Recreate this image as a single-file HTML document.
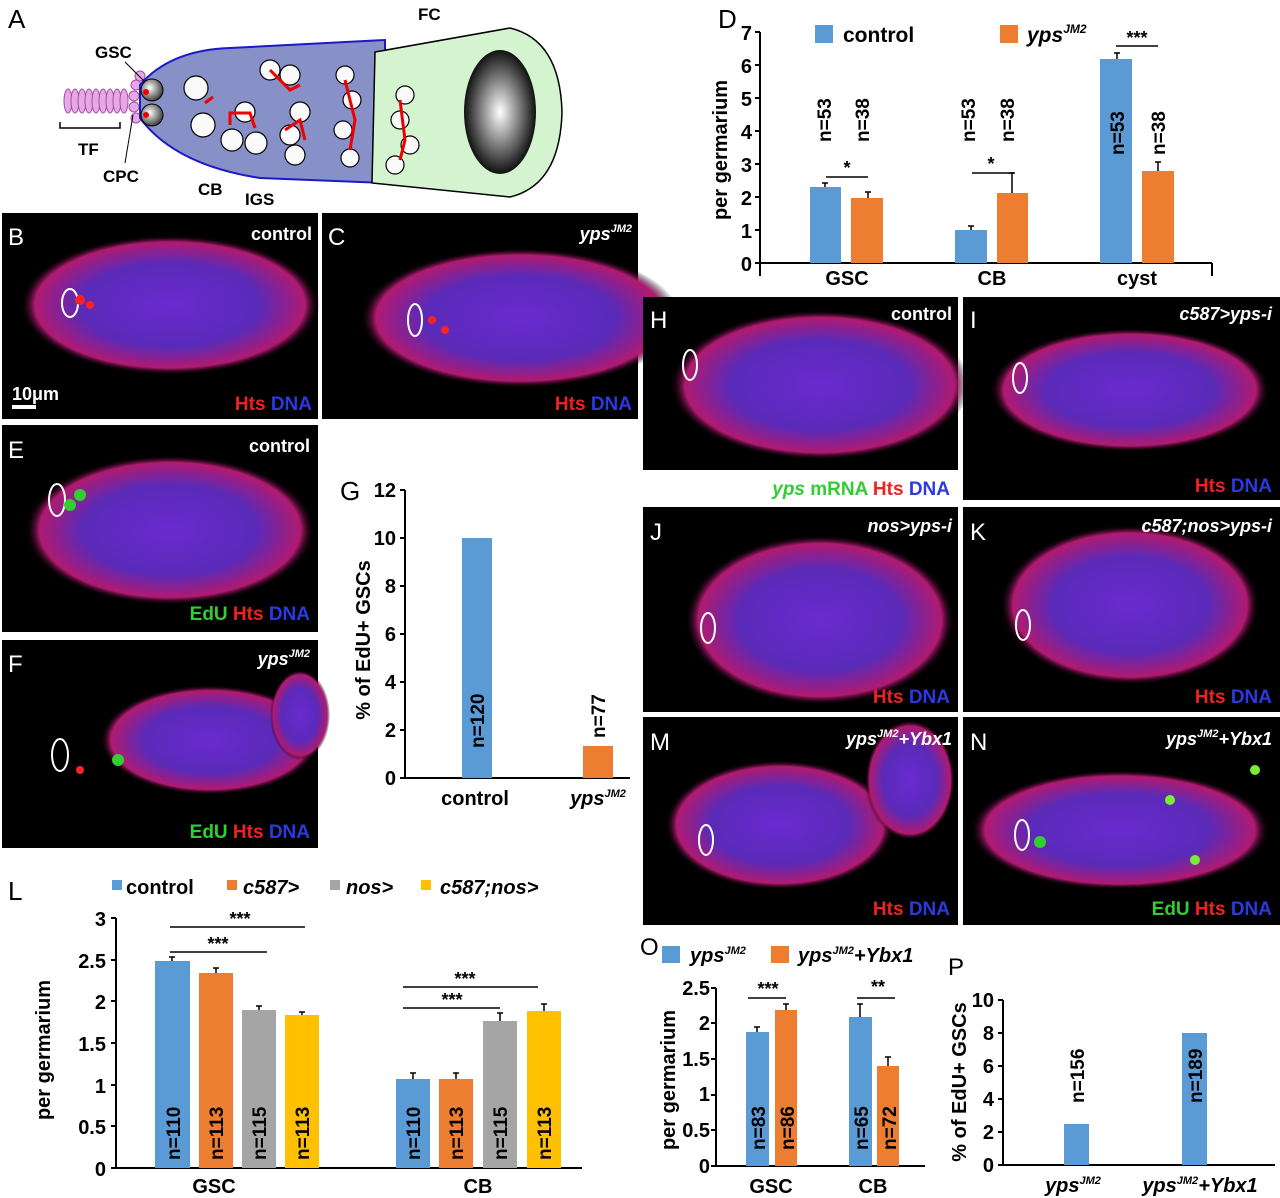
<!DOCTYPE html>
<html><head><meta charset="utf-8"><style>
html,body{margin:0;padding:0;background:#fff;}
svg{display:block;}
text{font-family:"Liberation Sans",sans-serif;}
.b{font-weight:bold;}
</style></head><body>
<svg width="1280" height="1198" viewBox="0 0 1280 1198" xmlns="http://www.w3.org/2000/svg">
<defs>
<radialGradient id="tis" cx="50%" cy="50%" r="50%">
<stop offset="0" stop-color="#6a2bd0"/><stop offset="0.6" stop-color="#5a2ab8"/><stop offset="0.9" stop-color="#b01a70"/><stop offset="1" stop-color="#000" stop-opacity="0"/>
</radialGradient>
<radialGradient id="oo" cx="50%" cy="50%" r="50%">
<stop offset="0" stop-color="#fff"/><stop offset="1" stop-color="#111"/>
</radialGradient>
<radialGradient id="gsc" cx="40%" cy="40%" r="60%">
<stop offset="0" stop-color="#fff"/><stop offset="1" stop-color="#444"/>
</radialGradient>
</defs>

<!-- Panel A -->
<text x="8" y="28" font-size="26">A</text>
<g>
<g fill="#e8a8e8" stroke="#a050a0" stroke-width="1">
<ellipse cx="68" cy="101" rx="4" ry="12"/><ellipse cx="75" cy="101" rx="4" ry="12"/><ellipse cx="82" cy="101" rx="4" ry="12"/><ellipse cx="89" cy="101" rx="4" ry="12"/><ellipse cx="96" cy="101" rx="4" ry="12"/><ellipse cx="103" cy="101" rx="4" ry="12"/><ellipse cx="110" cy="101" rx="4" ry="12"/><ellipse cx="117" cy="101" rx="4" ry="12"/><ellipse cx="124" cy="101" rx="4" ry="12"/>
<circle cx="136" cy="85" r="5"/><circle cx="134" cy="96" r="5"/><circle cx="134" cy="107" r="5"/><circle cx="136" cy="118" r="5"/><circle cx="140" cy="76" r="5"/>
</g>
<path d="M140 85 Q170 50 230 48 L385 40 L385 183 L260 178 Q175 165 140 118 Z" fill="#8890c8" stroke="#1a1ac8" stroke-width="2"/>
<path d="M375 52 L510 28 Q560 40 562 112 Q560 185 510 197 L372 183 Z" fill="#d4f4d0" stroke="#000" stroke-width="1.5"/>
<ellipse cx="500" cy="112" rx="36" ry="62" fill="url(#oo)"/>
<circle cx="152" cy="90" r="11" fill="url(#gsc)" stroke="#000"/><circle cx="152" cy="115" r="11" fill="url(#gsc)" stroke="#000"/>
<circle cx="146" cy="92" r="3" fill="#e00"/><circle cx="146" cy="115" r="3" fill="#e00"/>
<g fill="#fafafa" stroke="#000" stroke-width="1.2">
<circle cx="196" cy="88" r="12"/><circle cx="203" cy="125" r="12"/><circle cx="232" cy="140" r="11"/><circle cx="256" cy="143" r="11"/><circle cx="245" cy="112" r="10"/>
<circle cx="270" cy="70" r="10"/><circle cx="290" cy="75" r="10"/><circle cx="290" cy="135" r="10"/><circle cx="300" cy="112" r="10"/><circle cx="295" cy="155" r="10"/>
<circle cx="345" cy="75" r="9"/><circle cx="352" cy="100" r="9"/><circle cx="343" cy="130" r="9"/><circle cx="350" cy="158" r="9"/>
<circle cx="405" cy="95" r="9"/><circle cx="400" cy="120" r="9"/><circle cx="410" cy="145" r="9"/><circle cx="395" cy="165" r="9"/>
</g>
<g stroke="#e00" stroke-width="3" fill="none"><path d="M205 103 l8 -6"/><path d="M230 125 l0 -12 l20 0 l5 15"/><path d="M270 70 l20 20 l10 -5"/><path d="M285 130 l15 -10 l5 20"/><path d="M345 80 l10 40 l-5 30"/><path d="M400 100 l5 40 l-5 20"/></g>
<path d="M60 122 v6 h60 v-6" fill="none" stroke="#000" stroke-width="1.5"/>
</g>
<g font-family="Liberation Serif,serif" font-weight="bold" font-size="17">
<text x="95" y="58" font-family="Liberation Serif">GSC</text>
<text x="78" y="155">TF</text>
<text x="103" y="182">CPC</text>
<text x="198" y="195">CB</text>
<text x="245" y="205">IGS</text>
<text x="418" y="20">FC</text>
</g>
<line x1="125" y1="62" x2="145" y2="82" stroke="#000"/><line x1="125" y1="163" x2="133" y2="115" stroke="#000"/>

<!-- Panel D -->
<text x="718" y="28" font-size="26">D</text>
<g class="b" font-size="20" text-anchor="end">
<text x="752" y="40">7</text><text x="752" y="73">6</text><text x="752" y="106">5</text><text x="752" y="139">4</text><text x="752" y="172">3</text><text x="752" y="205">2</text><text x="752" y="238">1</text><text x="752" y="271">0</text>
</g>
<g stroke="#000" stroke-width="2"><line x1="760" y1="32" x2="760" y2="276"/><line x1="755" y1="263" x2="1212" y2="263"/><line x1="1212" y1="263" x2="1212" y2="276"/>
<line x1="755" y1="32" x2="760" y2="32"/><line x1="755" y1="65" x2="760" y2="65"/><line x1="755" y1="98" x2="760" y2="98"/><line x1="755" y1="131" x2="760" y2="131"/><line x1="755" y1="164" x2="760" y2="164"/><line x1="755" y1="197" x2="760" y2="197"/><line x1="755" y1="230" x2="760" y2="230"/></g>
<text class="b" font-size="20" transform="translate(727,150) rotate(-90)" text-anchor="middle">per germarium</text>
<rect x="815" y="25" width="18" height="18" fill="#5b9bd5"/><text class="b" x="843" y="42" font-size="21">control</text>
<rect x="1000" y="25" width="18" height="18" fill="#ed7d31"/><text class="b" x="1027" y="42" font-size="21" font-style="italic">yps<tspan font-size="12" dy="-9">JM2</tspan></text>
<g fill="#5b9bd5"><rect x="810" y="187" width="31" height="76"/><rect x="955" y="230" width="32" height="33"/><rect x="1100" y="59" width="32" height="204"/></g>
<g fill="#ed7d31"><rect x="851" y="198" width="32" height="65"/><rect x="997" y="193" width="31" height="70"/><rect x="1142" y="171" width="32" height="92"/></g>
<g stroke="#000" stroke-width="1.5"><path d="M825 187v-4M822 183h6M868 198v-6M865 192h6M971 230v-4M968 226h6M1012 193v-20M1009 173h6M1117 59v-6M1114 53h6M1158 171v-9M1155 162h6"/>
<path d="M826 177h42M972 173h42M1116 46h42"/></g>
<g class="b" font-size="18" text-anchor="middle"><text x="847" y="174">*</text><text x="991" y="170">*</text><text x="1137" y="44">***</text></g>
<g class="b" font-size="19">
<text transform="translate(831,142) rotate(-90)">n=53</text><text transform="translate(869,142) rotate(-90)">n=38</text>
<text transform="translate(975,142) rotate(-90)">n=53</text><text transform="translate(1014,142) rotate(-90)">n=38</text>
<text transform="translate(1124,155) rotate(-90)">n=53</text><text transform="translate(1165,155) rotate(-90)">n=38</text>
</g>
<g class="b" font-size="20" text-anchor="middle"><text x="847" y="285">GSC</text><text x="992" y="285">CB</text><text x="1137" y="285">cyst</text></g>

<!-- microscopy panels -->
<g>
<rect x="2" y="213" width="316" height="206" fill="#000"/>
<ellipse cx="170" cy="305" rx="150" ry="70" fill="url(#tis)"/><ellipse cx="70" cy="303" rx="8" ry="14" fill="none" stroke="#fff" stroke-width="2"/>
<circle cx="80" cy="300" r="5" fill="#f22"/><circle cx="90" cy="305" r="4" fill="#f22"/>
<text x="8" y="245" font-size="24" fill="#fff">B</text><text class="b" x="312" y="240" font-size="18" fill="#fff" text-anchor="end">control</text>
<text class="b" x="12" y="400" font-size="18" fill="#fff">10μm</text><rect x="12" y="405" width="24" height="4" fill="#fff"/>
<text class="b" x="312" y="410" font-size="19" fill="#e22" text-anchor="end">Hts <tspan fill="#2a3ae0">DNA</tspan></text>

<rect x="322" y="213" width="316" height="206" fill="#000"/>
<ellipse cx="520" cy="318" rx="160" ry="70" fill="url(#tis)"/><ellipse cx="415" cy="320" rx="7" ry="16" fill="none" stroke="#fff" stroke-width="2"/>
<circle cx="432" cy="320" r="4" fill="#f22"/><circle cx="445" cy="330" r="4" fill="#f22"/>
<text x="328" y="245" font-size="24" fill="#fff">C</text><text class="b" x="632" y="240" font-size="18" fill="#fff" text-anchor="end" font-style="italic">yps<tspan font-size="11" dy="-8">JM2</tspan></text>
<text class="b" x="632" y="410" font-size="19" fill="#e22" text-anchor="end">Hts <tspan fill="#2a3ae0">DNA</tspan></text>

<rect x="2" y="425" width="316" height="207" fill="#000"/>
<ellipse cx="170" cy="530" rx="145" ry="75" fill="url(#tis)"/><ellipse cx="57" cy="500" rx="8" ry="16" fill="none" stroke="#fff" stroke-width="2"/>
<circle cx="70" cy="505" r="6" fill="#3c3"/><circle cx="80" cy="495" r="6" fill="#3c3"/>
<text x="8" y="458" font-size="24" fill="#fff">E</text><text class="b" x="310" y="452" font-size="18" fill="#fff" text-anchor="end">control</text>
<text class="b" x="310" y="620" font-size="19" fill="#3c3" text-anchor="end">EdU <tspan fill="#e22">Hts</tspan> <tspan fill="#2a3ae0">DNA</tspan></text>

<rect x="2" y="640" width="316" height="208" fill="#000"/>
<ellipse cx="210" cy="740" rx="110" ry="55" fill="url(#tis)"/><ellipse cx="300" cy="715" rx="30" ry="45" fill="url(#tis)"/><ellipse cx="60" cy="755" rx="8" ry="16" fill="none" stroke="#fff" stroke-width="2"/>
<circle cx="118" cy="760" r="6" fill="#3c3"/><circle cx="80" cy="770" r="4" fill="#f22"/>
<text x="8" y="672" font-size="24" fill="#fff">F</text><text class="b" x="310" y="665" font-size="18" fill="#fff" text-anchor="end" font-style="italic">yps<tspan font-size="11" dy="-8">JM2</tspan></text>
<text class="b" x="310" y="838" font-size="19" fill="#3c3" text-anchor="end">EdU <tspan fill="#e22">Hts</tspan> <tspan fill="#2a3ae0">DNA</tspan></text>

<rect x="643" y="297" width="315" height="173" fill="#000"/>
<ellipse cx="820" cy="385" rx="150" ry="75" fill="url(#tis)"/><ellipse cx="690" cy="365" rx="7" ry="15" fill="none" stroke="#fff" stroke-width="2"/>
<text x="650" y="328" font-size="24" fill="#fff">H</text><text class="b" x="952" y="320" font-size="18" fill="#fff" text-anchor="end">control</text>
<text class="b" x="950" y="495" font-size="19" fill="#3c3" text-anchor="end"><tspan font-style="italic">yps</tspan> mRNA <tspan fill="#e22">Hts</tspan> <tspan fill="#2a3ae0">DNA</tspan></text>

<rect x="963" y="297" width="317" height="203" fill="#000"/>
<ellipse cx="1130" cy="390" rx="140" ry="62" fill="url(#tis)"/><ellipse cx="1020" cy="378" rx="7" ry="15" fill="none" stroke="#fff" stroke-width="2"/>
<text x="970" y="328" font-size="24" fill="#fff">I</text><text class="b" x="1272" y="320" font-size="18" fill="#fff" text-anchor="end" font-style="italic">c587&gt;yps-i</text>
<text class="b" x="1272" y="492" font-size="19" fill="#e22" text-anchor="end">Hts <tspan fill="#2a3ae0">DNA</tspan></text>

<rect x="643" y="507" width="315" height="205" fill="#000"/>
<ellipse cx="820" cy="620" rx="135" ry="85" fill="url(#tis)"/><ellipse cx="708" cy="628" rx="7" ry="15" fill="none" stroke="#fff" stroke-width="2"/>
<text x="650" y="540" font-size="24" fill="#fff">J</text><text class="b" x="952" y="532" font-size="18" fill="#fff" text-anchor="end" font-style="italic">nos&gt;yps-i</text>
<text class="b" x="950" y="703" font-size="19" fill="#e22" text-anchor="end">Hts <tspan fill="#2a3ae0">DNA</tspan></text>

<rect x="963" y="507" width="317" height="205" fill="#000"/>
<ellipse cx="1130" cy="605" rx="130" ry="80" fill="url(#tis)"/><ellipse cx="1023" cy="625" rx="7" ry="15" fill="none" stroke="#fff" stroke-width="2"/>
<text x="970" y="540" font-size="24" fill="#fff">K</text><text class="b" x="1272" y="532" font-size="18" fill="#fff" text-anchor="end" font-style="italic">c587;nos&gt;yps-i</text>
<text class="b" x="1272" y="703" font-size="19" fill="#e22" text-anchor="end">Hts <tspan fill="#2a3ae0">DNA</tspan></text>

<rect x="643" y="717" width="315" height="208" fill="#000"/>
<ellipse cx="780" cy="825" rx="115" ry="65" fill="url(#tis)"/><ellipse cx="910" cy="780" rx="45" ry="60" fill="url(#tis)"/><ellipse cx="706" cy="840" rx="7" ry="15" fill="none" stroke="#fff" stroke-width="2"/>
<text x="650" y="750" font-size="24" fill="#fff">M</text><text class="b" x="952" y="745" font-size="18" fill="#fff" text-anchor="end" font-style="italic">yps<tspan font-size="11" dy="-8">JM2</tspan><tspan dy="8">+Ybx1</tspan></text>
<text class="b" x="950" y="915" font-size="19" fill="#e22" text-anchor="end">Hts <tspan fill="#2a3ae0">DNA</tspan></text>

<rect x="963" y="717" width="317" height="208" fill="#000"/>
<ellipse cx="1120" cy="830" rx="150" ry="60" fill="url(#tis)"/><ellipse cx="1022" cy="835" rx="7" ry="15" fill="none" stroke="#fff" stroke-width="2"/>
<circle cx="1040" cy="842" r="6" fill="#3c3"/><circle cx="1170" cy="800" r="5" fill="#7e3"/><circle cx="1195" cy="860" r="5" fill="#7e3"/><circle cx="1255" cy="770" r="5" fill="#7e3"/>
<text x="970" y="750" font-size="24" fill="#fff">N</text><text class="b" x="1272" y="745" font-size="18" fill="#fff" text-anchor="end" font-style="italic">yps<tspan font-size="11" dy="-8">JM2</tspan><tspan dy="8">+Ybx1</tspan></text>
<text class="b" x="1272" y="915" font-size="19" fill="#3c3" text-anchor="end">EdU <tspan fill="#e22">Hts</tspan> <tspan fill="#2a3ae0">DNA</tspan></text>
</g>

<!-- Panel G -->
<text x="340" y="500" font-size="26">G</text>
<g class="b" font-size="20" text-anchor="end">
<text x="396" y="497">12</text><text x="396" y="545">10</text><text x="396" y="593">8</text><text x="396" y="641">6</text><text x="396" y="689">4</text><text x="396" y="737">2</text><text x="396" y="785">0</text>
</g>
<g stroke="#000" stroke-width="2"><line x1="405" y1="490" x2="405" y2="778"/><line x1="400" y1="778" x2="630" y2="778"/>
<path d="M400 490h5M400 538h5M400 586h5M400 634h5M400 682h5M400 730h5"/></g>
<text class="b" font-size="20" transform="translate(370,640) rotate(-90)" text-anchor="middle">% of EdU+ GSCs</text>
<rect x="462" y="538" width="30" height="240" fill="#5b9bd5"/><rect x="583" y="746" width="30" height="32" fill="#ed7d31"/>
<g class="b" font-size="19"><text transform="translate(484,748) rotate(-90)">n=120</text><text transform="translate(605,738) rotate(-90)">n=77</text></g>
<text class="b" x="475" y="805" font-size="20" text-anchor="middle">control</text>
<text class="b" x="598" y="805" font-size="20" text-anchor="middle" font-style="italic">yps<tspan font-size="11" dy="-8">JM2</tspan></text>

<!-- Panel L -->
<text x="8" y="900" font-size="26">L</text>
<rect x="112" y="880" width="10" height="10" fill="#5b9bd5"/><text class="b" x="126" y="894" font-size="20">control</text>
<rect x="227" y="880" width="10" height="10" fill="#ed7d31"/><text class="b" x="243" y="894" font-size="20" font-style="italic">c587&gt;</text>
<rect x="330" y="880" width="10" height="10" fill="#a5a5a5"/><text class="b" x="346" y="894" font-size="20" font-style="italic">nos&gt;</text>
<rect x="421" y="880" width="10" height="10" fill="#ffc000"/><text class="b" x="440" y="894" font-size="20" font-style="italic">c587;nos&gt;</text>
<g class="b" font-size="20" text-anchor="end">
<text x="106" y="926">3</text><text x="106" y="968">2.5</text><text x="106" y="1009">2</text><text x="106" y="1051">1.5</text><text x="106" y="1093">1</text><text x="106" y="1134">0.5</text><text x="106" y="1176">0</text>
</g>
<g stroke="#000" stroke-width="2"><line x1="116" y1="918" x2="116" y2="1169"/><line x1="111" y1="1168" x2="582" y2="1168"/>
<path d="M111 918h5M111 960h5M111 1001h5M111 1043h5M111 1085h5M111 1126h5"/></g>
<text class="b" font-size="20" transform="translate(50,1050) rotate(-90)" text-anchor="middle">per germarium</text>
<g fill="#5b9bd5"><rect x="155" y="961" width="35" height="207"/><rect x="396" y="1079" width="34" height="89"/></g>
<g fill="#ed7d31"><rect x="199" y="973" width="34" height="195"/><rect x="439" y="1079" width="34" height="89"/></g>
<g fill="#a5a5a5"><rect x="242" y="1010" width="34" height="158"/><rect x="483" y="1021" width="34" height="147"/></g>
<g fill="#ffc000"><rect x="285" y="1015" width="34" height="153"/><rect x="527" y="1011" width="34" height="157"/></g>
<g stroke="#000" stroke-width="1.5"><path d="M172 961v-4M169 957h6M216 973v-5M213 968h6M259 1010v-4M256 1006h6M302 1015v-3M299 1012h6M413 1079v-6M410 1073h6M456 1079v-6M453 1073h6M500 1021v-8M497 1013h6M544 1011v-7M541 1004h6"/>
<path d="M170 927h135M170 952h97M403 987h135M403 1008h97"/></g>
<g class="b" font-size="18" text-anchor="middle"><text x="240" y="925">***</text><text x="218" y="950">***</text><text x="465" y="985">***</text><text x="452" y="1006">***</text></g>
<g class="b" font-size="19">
<text transform="translate(180,1160) rotate(-90)">n=110</text><text transform="translate(223,1160) rotate(-90)">n=113</text><text transform="translate(266,1160) rotate(-90)">n=115</text><text transform="translate(309,1160) rotate(-90)">n=113</text>
<text transform="translate(420,1160) rotate(-90)">n=110</text><text transform="translate(463,1160) rotate(-90)">n=113</text><text transform="translate(507,1160) rotate(-90)">n=115</text><text transform="translate(551,1160) rotate(-90)">n=113</text>
</g>
<g class="b" font-size="20" text-anchor="middle"><text x="214" y="1193">GSC</text><text x="478" y="1193">CB</text></g>

<!-- Panel O -->
<text x="640" y="955" font-size="24">O</text>
<rect x="662" y="946" width="18" height="17" fill="#5b9bd5"/><text class="b" x="690" y="962" font-size="20" font-style="italic">yps<tspan font-size="11" dy="-8">JM2</tspan></text>
<rect x="771" y="946" width="18" height="17" fill="#ed7d31"/><text class="b" x="798" y="962" font-size="20" font-style="italic">yps<tspan font-size="11" dy="-8">JM2</tspan><tspan dy="8">+Ybx1</tspan></text>
<g class="b" font-size="20" text-anchor="end">
<text x="710" y="995">2.5</text><text x="710" y="1030">2</text><text x="710" y="1066">1.5</text><text x="710" y="1101">1</text><text x="710" y="1137">0.5</text><text x="710" y="1173">0</text>
</g>
<g stroke="#000" stroke-width="2"><line x1="716" y1="988" x2="716" y2="1166"/><line x1="711" y1="1166" x2="925" y2="1166"/>
<path d="M711 988h5M711 1023h5M711 1059h5M711 1095h5M711 1130h5"/></g>
<text class="b" font-size="20" transform="translate(675,1080) rotate(-90)" text-anchor="middle">per germarium</text>
<g fill="#5b9bd5"><rect x="746" y="1032" width="23" height="134"/><rect x="849" y="1017" width="23" height="149"/></g>
<g fill="#ed7d31"><rect x="775" y="1010" width="22" height="156"/><rect x="877" y="1066" width="22" height="100"/></g>
<g stroke="#000" stroke-width="1.5"><path d="M757 1032v-5M754 1027h6M786 1010v-6M783 1004h6M860 1017v-13M857 1004h6M888 1066v-9M885 1057h6"/>
<path d="M748 998h38M857 998h38"/></g>
<g class="b" font-size="18" text-anchor="middle"><text x="768" y="995">***</text><text x="878" y="993">**</text></g>
<g class="b" font-size="19">
<text transform="translate(765,1150) rotate(-90)">n=83</text><text transform="translate(794,1150) rotate(-90)">n=86</text>
<text transform="translate(868,1150) rotate(-90)">n=65</text><text transform="translate(896,1150) rotate(-90)">n=72</text>
</g>
<g class="b" font-size="20" text-anchor="middle"><text x="771" y="1193">GSC</text><text x="873" y="1193">CB</text></g>

<!-- Panel P -->
<text x="948" y="975" font-size="24">P</text>
<g class="b" font-size="20" text-anchor="end">
<text x="994" y="1007">10</text><text x="994" y="1040">8</text><text x="994" y="1073">6</text><text x="994" y="1106">4</text><text x="994" y="1139">2</text><text x="994" y="1172">0</text>
</g>
<g stroke="#000" stroke-width="2"><line x1="1003" y1="1000" x2="1003" y2="1165"/><line x1="998" y1="1165" x2="1275" y2="1165"/>
<path d="M998 1000h5M998 1033h5M998 1066h5M998 1099h5M998 1132h5"/></g>
<text class="b" font-size="20" transform="translate(966,1082) rotate(-90)" text-anchor="middle">% of EdU+ GSCs</text>
<rect x="1064" y="1124" width="25" height="41" fill="#5b9bd5"/><rect x="1182" y="1033" width="25" height="132" fill="#5b9bd5"/>
<g class="b" font-size="19"><text transform="translate(1084,1103) rotate(-90)">n=156</text><text transform="translate(1202,1103) rotate(-90)">n=189</text></g>
<text class="b" x="1073" y="1192" font-size="20" text-anchor="middle" font-style="italic">yps<tspan font-size="11" dy="-8">JM2</tspan></text>
<text class="b" x="1200" y="1192" font-size="20" text-anchor="middle" font-style="italic">yps<tspan font-size="11" dy="-8">JM2</tspan><tspan dy="8">+Ybx1</tspan></text>
</svg>
</body></html>
